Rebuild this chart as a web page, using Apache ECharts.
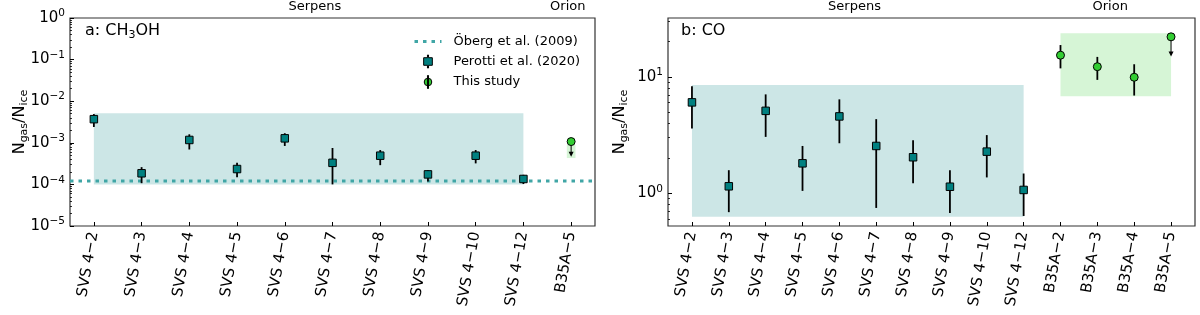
<!DOCTYPE html>
<html>
<head>
<meta charset="utf-8">
<script src="https://cdn.jsdelivr.net/npm/echarts@6/dist/echarts.min.js"></script>
<style>
  html, body { margin: 0; padding: 0; background: #fff; }
  #chart { width: 1200px; height: 315px; }
</style>
</head>
<body>
<div id="chart"></div>
<script>
// ---------------- DATA ----------------
// Panel a: CH3OH
const catsA = ['SVS 4−2','SVS 4−3','SVS 4−4','SVS 4−5','SVS 4−6','SVS 4−7','SVS 4−8','SVS 4−9','SVS 4−10','SVS 4−12','B35A−5'];
const perottiNamesA = ['SVS 4−2','SVS 4−3','SVS 4−4','SVS 4−5','SVS 4−6','SVS 4−7','SVS 4−8','SVS 4−9','SVS 4−10','SVS 4−12'];
const ch3ohRatio = [3.7e-3, 1.85e-4, 1.17e-3, 2.34e-4, 1.28e-3, 3.3e-4, 4.9e-4, 1.74e-4, 4.9e-4, 1.35e-4];
const ch3ohLow   = [2.4e-3, 1.07e-4, 6.9e-4, 1.48e-4, 8.4e-4, 1.0e-4, 2.9e-4, 1.17e-4, 3.2e-4, 1.02e-4];
const ch3ohHigh  = [4.9e-3, 2.6e-4, 1.6e-3, 3.3e-4, 1.7e-3, 7.5e-4, 6.7e-4, 2.2e-4, 6.7e-4, 1.7e-4];
const limitNamesA = ['B35A−5'];
const ch3ohLimit = [1.07e-3];
const ch3ohLimitTo = [4.6e-4];
const obergRatio = 1.2e-4;
const serpensBandA = [1.0e-4, 5.1e-3];
const orionBandA = [4.3e-4, 8.9e-4];
const yRangeA = [1e-5, 1];
const yTicksA = [1e-5, 1e-4, 1e-3, 1e-2, 1e-1, 1];

// Panel b: CO
const catsB = ['SVS 4−2','SVS 4−3','SVS 4−4','SVS 4−5','SVS 4−6','SVS 4−7','SVS 4−8','SVS 4−9','SVS 4−10','SVS 4−12','B35A−2','B35A−3','B35A−4','B35A−5'];
const perottiNamesB = ['SVS 4−2','SVS 4−3','SVS 4−4','SVS 4−5','SVS 4−6','SVS 4−7','SVS 4−8','SVS 4−9','SVS 4−10','SVS 4−12'];
const coRatio = [6.03, 1.15, 5.1, 1.81, 4.57, 2.55, 2.04, 1.14, 2.28, 1.07];
const coLow   = [3.6, 0.69, 3.05, 1.05, 2.69, 0.75, 1.22, 0.68, 1.37, 0.64];
const coHigh  = [8.3, 1.58, 7.06, 2.55, 6.4, 4.33, 2.85, 1.58, 3.16, 1.48];
const thisNamesB = ['B35A−2','B35A−3','B35A−4'];
const coThis     = [15.3, 12.2, 9.9];
const coThisLow  = [11.8, 9.4, 6.9];
const coThisHigh = [18.7, 14.8, 12.8];
const limitNamesB = ['B35A−5'];
const coLimit = [22.0];
const coLimitTo = [14.9];
const serpensBandB = [0.63, 8.5];
const orionBandB = [6.8, 23.6];
const yRangeB = [0.525, 31.9];
const yTicksB = [1, 10];

const regionLabels = ['Serpens', 'Orion'];

// ---------------- STYLE ----------------
const FONT = 'DejaVu Sans';
const TEAL = '#008080';
const GREEN = '#32cd32';
const TEAL_BAND = 'rgba(0,128,128,0.2)';
const GREEN_BAND = 'rgba(50,205,50,0.2)';
const DOT_COLOR = '#40a6a6';
const FRAME = '#333';
const DOT_DASH = [3.5, 5];

function minorTicks(range) {
  const out = [];
  const lo = Math.floor(Math.log10(range[0])), hi = Math.ceil(Math.log10(range[1]));
  for (let d = lo; d <= hi; d++) {
    for (let m = 2; m <= 9; m++) {
      const v = m * Math.pow(10, d);
      if (v >= range[0] && v <= range[1]) out.push(v);
    }
  }
  return out;
}
function rangeIdx(n) { return Array.from({length: n}, (_, i) => i); }
function powLabel(v) {
  const e = Math.round(Math.log10(v));
  return '{b|10}{s|' + (e < 0 ? '−' + (-e) : e) + '}';
}
const powRich = {
  b: { fontFamily: FONT, fontSize: 15, color: '#000', lineHeight: 20 },
  s: { fontFamily: FONT, fontSize: 10.5, color: '#000', lineHeight: 12, verticalAlign: 'top' }
};
const nameRich = {
  n: { fontFamily: FONT, fontSize: 16, color: '#000', lineHeight: 20, fontWeight: 'normal' },
  s: { fontFamily: FONT, fontSize: 11, color: '#000', lineHeight: 10, verticalAlign: 'bottom', fontWeight: 'normal' }
};

function xAxes(cats, min, max, gridIndex, regionPos) {
  const ids = rangeIdx(cats.length);
  return [
    {
      gridIndex, type: 'value', min, max, position: 'bottom',
      axisLine: { show: false, onZero: false }, splitLine: { show: false },
      axisTick: { show: true, inside: true, length: 4, customValues: ids, lineStyle: { color: '#000', width: 1 } },
      axisLabel: {
        customValues: ids, rotate: 80, margin: 6, padding: [8, 0, 0, 0],
        fontFamily: FONT, fontSize: 15, color: '#000',
        formatter: v => cats[Math.round(v)]
      }
    },
    {
      gridIndex, type: 'value', min, max, position: 'top',
      axisLine: { show: false, onZero: false }, splitLine: { show: false }, axisTick: { show: false },
      axisLabel: {
        customValues: regionPos, margin: 5, fontFamily: FONT, fontSize: 13, color: '#000',
        formatter: v => regionLabels[regionPos.indexOf(v)]
      }
    }
  ];
}
function yAxes(range, ticks, gridIndex, nameGap) {
  return [
    {
      gridIndex, type: 'log', logBase: 10, min: range[0], max: range[1], position: 'left',
      axisLine: { show: false, onZero: false }, splitLine: { show: false },
      axisTick: { show: true, inside: true, length: 4, customValues: ticks, lineStyle: { color: '#000', width: 1 } },
      axisLabel: { customValues: ticks, margin: 5, formatter: powLabel, rich: powRich },
      name: '{n|N}{s|gas}{n|/N}{s|ice}', nameLocation: 'middle', nameGap: nameGap,
      nameMoveOverlap: false,
      nameTextStyle: { rich: nameRich }
    },
    {
      gridIndex, type: 'log', logBase: 10, min: range[0], max: range[1], position: 'left',
      axisLine: { show: false, onZero: false }, splitLine: { show: false },
      axisTick: { show: true, inside: true, length: 2, customValues: minorTicks(range), lineStyle: { color: '#000', width: 0.8 } },
      axisLabel: { show: false }
    }
  ];
}

function errBarSeries(cats, names, lo, hi, xi, yi) {
  return {
    type: 'custom', name: 'errbars', xAxisIndex: xi, yAxisIndex: yi, z: 3, silent: true,
    data: names.map((n, i) => [cats.indexOf(n), lo[i], hi[i]]),
    encode: { x: 0, y: [1, 2] },
    renderItem: (params, api) => {
      const x = api.value(0);
      const a = api.coord([x, api.value(1)]);
      const b = api.coord([x, api.value(2)]);
      return { type: 'line', shape: { x1: a[0], y1: a[1], x2: b[0], y2: b[1] }, style: { stroke: '#000', lineWidth: 1.8 } };
    }
  };
}
function arrowSeries(cats, names, from, to, xi, yi) {
  return {
    type: 'custom', name: 'limits', xAxisIndex: xi, yAxisIndex: yi, z: 3, silent: true,
    data: names.map((n, i) => [cats.indexOf(n), from[i], to[i]]),
    encode: { x: 0, y: [1, 2] },
    renderItem: (params, api) => {
      const x = api.value(0);
      const p = api.coord([x, api.value(1)]);
      const q = api.coord([x, api.value(2)]);
      return { type: 'group', children: [
        { type: 'line', shape: { x1: p[0], y1: p[1], x2: q[0], y2: q[1] - 4 }, style: { stroke: '#000', lineWidth: 1 } },
        { type: 'polygon', shape: { points: [[q[0] - 2.5, q[1] - 5], [q[0] + 2.5, q[1] - 5], [q[0], q[1]]] }, style: { fill: '#000' } }
      ]};
    }
  };
}
function markerSeries(name, cats, names, vals, xi, yi, symbol, color) {
  return {
    type: 'scatter', name, xAxisIndex: xi, yAxisIndex: yi, z: 4,
    symbol, symbolSize: symbol === 'rect' ? 7.5 : 8,
    itemStyle: { color, borderColor: '#000', borderWidth: 1, opacity: 1 },
    data: names.map((n, i) => [cats.indexOf(n), vals[i]])
  };
}
function bandSeries(xi, yi, bands) {
  return {
    type: 'line', name: 'bands', xAxisIndex: xi, yAxisIndex: yi, z: 1, data: [], silent: true,
    markArea: { silent: true, data: bands.map(b => [
      { xAxis: b.x0, yAxis: b.y[0], itemStyle: { color: b.color } },
      { xAxis: b.x1, yAxis: b.y[1] }
    ]) }
  };
}
// horizontal reference line across the whole plot width, y through the axis scale
function hLineSeries(value, xi, yi) {
  return {
    type: 'custom', name: 'refline', xAxisIndex: xi, yAxisIndex: yi, z: 2, silent: true,
    data: [[0, value]], encode: { x: 0, y: 1 },
    renderItem: (params, api) => {
      const cs = params.coordSys;
      const y = api.coord([api.value(0), api.value(1)])[1];
      return { type: 'line', shape: { x1: cs.x, y1: y, x2: cs.x + cs.width, y2: y },
        style: { stroke: DOT_COLOR, lineWidth: 3, lineDash: DOT_DASH, lineCap: 'butt' } };
    }
  };
}

const xA = xAxes(catsA, -0.5, 10.5, 0, [4.63, 9.93]);
const xB = xAxes(catsB, -0.65, 13.65, 1, [4.41, 11.35]);
const yA = yAxes(yRangeA, yTicksA, 0, 40);
const yB = yAxes(yRangeB, yTicksB, 1, 38);

const iA = catsA.indexOf('B35A−5');
const dotStyle = { color: DOT_COLOR, width: 3, type: DOT_DASH, cap: 'butt', opacity: 1 };

const option = {
  animation: false,
  backgroundColor: '#fff',
  title: [
    { left: 85, top: 21, padding: 0, text: '{n|a: CH}{s|3}{n|OH}',
      textStyle: { fontWeight: 'normal', rich: nameRich } },
    { left: 681, top: 21, padding: 0, text: 'b: CO',
      textStyle: { fontFamily: FONT, fontSize: 16, color: '#000', fontWeight: 'normal', lineHeight: 20 } }
  ],
  legend: {
    show: true, orient: 'vertical', left: 413, top: 35, padding: 0,
    itemWidth: 27, itemHeight: 13, itemGap: 6.5,
    textStyle: { fontFamily: FONT, fontSize: 13, color: '#000', padding: [0, 0, 0, 7] },
    data: [
      { name: 'Öberg et al. (2009)',
        itemStyle: { color: 'rgba(0,0,0,0)', borderColor: 'rgba(0,0,0,0)', borderWidth: 0 },
        lineStyle: dotStyle },
      { name: 'Perotti et al. (2020)',
        icon: 'path://M4.5,0 L5.5,0 L5.5,2.5 L9,2.5 L9,9.5 L5.5,9.5 L5.5,12 L4.5,12 L4.5,9.5 L1,9.5 L1,2.5 L4.5,2.5 Z',
        itemStyle: { color: TEAL, borderColor: '#000', borderWidth: 1 } },
      { name: 'This study',
        icon: 'path://M4.5,0 L5.5,0 L5.5,12 L4.5,12 Z M1.5,6 A3.5,3.5 0 1 1 8.5,6 A3.5,3.5 0 1 1 1.5,6 Z',
        itemStyle: { color: GREEN, borderColor: '#000', borderWidth: 1 } }
    ]
  },
  grid: [
    { left: 70, top: 18, width: 525, height: 208, show: true, borderColor: FRAME, borderWidth: 1.2, backgroundColor: 'transparent', containLabel: false, outerBoundsMode: 'none' },
    { left: 668, top: 18, width: 527, height: 208, show: true, borderColor: FRAME, borderWidth: 1.2, backgroundColor: 'transparent', containLabel: false, outerBoundsMode: 'none' }
  ],
  xAxis: [xA[0], xA[1], xB[0], xB[1]],
  yAxis: [yA[0], yA[1], yB[0], yB[1]],
  series: [
    // ---- panel a ----
    bandSeries(0, 0, [
      { x0: catsA.indexOf('SVS 4−2'), x1: catsA.indexOf('SVS 4−12'), y: serpensBandA, color: TEAL_BAND },
      { x0: iA - 0.09, x1: iA + 0.09, y: orionBandA, color: GREEN_BAND }
    ]),
    {
      // legend entry for the Öberg reference (drawn by the custom series below)
      type: 'line', name: 'Öberg et al. (2009)', xAxisIndex: 0, yAxisIndex: 0, z: 2,
      data: [[0, obergRatio]], symbol: 'none', showSymbol: false,
      lineStyle: dotStyle, itemStyle: { color: DOT_COLOR }
    },
    hLineSeries(obergRatio, 0, 0),
    errBarSeries(catsA, perottiNamesA, ch3ohLow, ch3ohHigh, 0, 0),
    markerSeries('Perotti et al. (2020)', catsA, perottiNamesA, ch3ohRatio, 0, 0, 'rect', TEAL),
    arrowSeries(catsA, limitNamesA, ch3ohLimit, ch3ohLimitTo, 0, 0),
    markerSeries('This study', catsA, limitNamesA, ch3ohLimit, 0, 0, 'circle', GREEN),
    // ---- panel b ----
    bandSeries(2, 2, [
      { x0: catsB.indexOf('SVS 4−2'), x1: catsB.indexOf('SVS 4−12'), y: serpensBandB, color: TEAL_BAND },
      { x0: catsB.indexOf('B35A−2'), x1: catsB.indexOf('B35A−5'), y: orionBandB, color: GREEN_BAND }
    ]),
    errBarSeries(catsB, perottiNamesB, coLow, coHigh, 2, 2),
    markerSeries('Perotti et al. (2020)', catsB, perottiNamesB, coRatio, 2, 2, 'rect', TEAL),
    errBarSeries(catsB, thisNamesB, coThisLow, coThisHigh, 2, 2),
    arrowSeries(catsB, limitNamesB, coLimit, coLimitTo, 2, 2),
    markerSeries('This study', catsB, thisNamesB.concat(limitNamesB), coThis.concat(coLimit), 2, 2, 'circle', GREEN)
  ]
};

const chart = echarts.init(document.getElementById('chart'), null, { renderer: 'canvas' });
chart.setOption(option);
</script>
</body>
</html>
